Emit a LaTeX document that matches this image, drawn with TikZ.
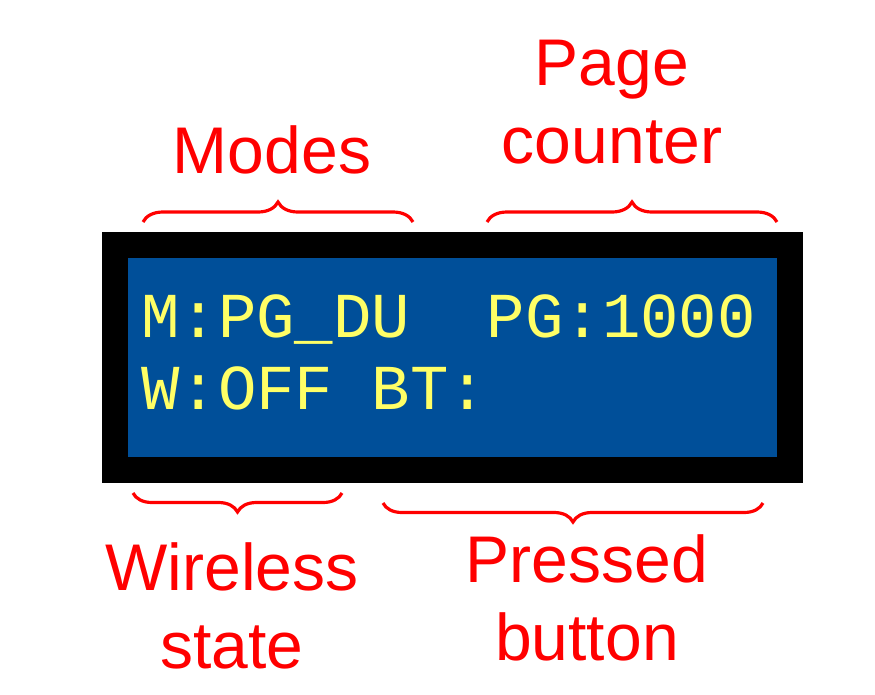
\documentclass[tikz,border=0pt]{standalone}
\usepackage{fontspec}
\setmainfont{Liberation Sans}
\newfontfamily\lcdfont{Liberation Mono}
\usetikzlibrary{decorations.pathreplacing}
\definecolor{lcdblue}{RGB}{0,79,153}
\definecolor{lcdyellow}{RGB}{255,255,102}
\definecolor{labelred}{RGB}{255,0,0}
\tikzset{
  bracestyle/.style={draw=labelred, line width=3.2pt, decorate,
    decoration={brace, amplitude=#1}},
  bracestyle/.default=20pt,
  lbl/.style={text=labelred, inner sep=0pt, align=center, anchor=base,
    font=\fontsize{66}{78}\selectfont},
  lcdtext/.style={text=lcdyellow, inner sep=0pt, anchor=base west,
    font=\lcdfont\fontsize{64}{72}\selectfont}
}
\begin{document}
\begin{tikzpicture}[x=1pt,y=-1pt]
\useasboundingbox[fill=white] (0,0) rectangle (875,694);
% display
\node[fill=black, inner sep=0pt, minimum width=701pt, minimum height=251pt] (frame) at (452.5,357.5) {};
\node[fill=lcdblue, inner sep=0pt, minimum width=649pt, minimum height=199pt] (screen) at (frame.center) {};
\node[lcdtext] (line1) at (141,337) {M:PG\_DU\ \ PG:1000};
\node[lcdtext] (line2) at (141,409) {W:OFF BT:};
% braces
\coordinate (modesL) at (143,222);
\coordinate (modesR) at (413,222);
\coordinate (pageL) at (487,222);
\coordinate (pageR) at (777,222);
\coordinate (wirelessL) at (133,493);
\coordinate (wirelessR) at (342,493);
\coordinate (pressedL) at (383,503);
\coordinate (pressedR) at (763,503);
\draw[bracestyle] (modesL) -- (modesR);
\draw[bracestyle] (pageL) -- (pageR);
\draw[bracestyle=19pt] (wirelessR) -- (wirelessL);
\draw[bracestyle=19pt] (pressedR) -- (pressedL);
% labels (base anchor = baseline of the last line)
\node[lbl] (modes) at (272,173) {Modes};
\node[lbl] (page) at (612,163) {Page\\counter};
\node[lbl] (wireless) at (232,668) {Wireless\\state};
\node[lbl] (pressed) at (587,660) {Pressed\\button};
\end{tikzpicture}
\end{document}
